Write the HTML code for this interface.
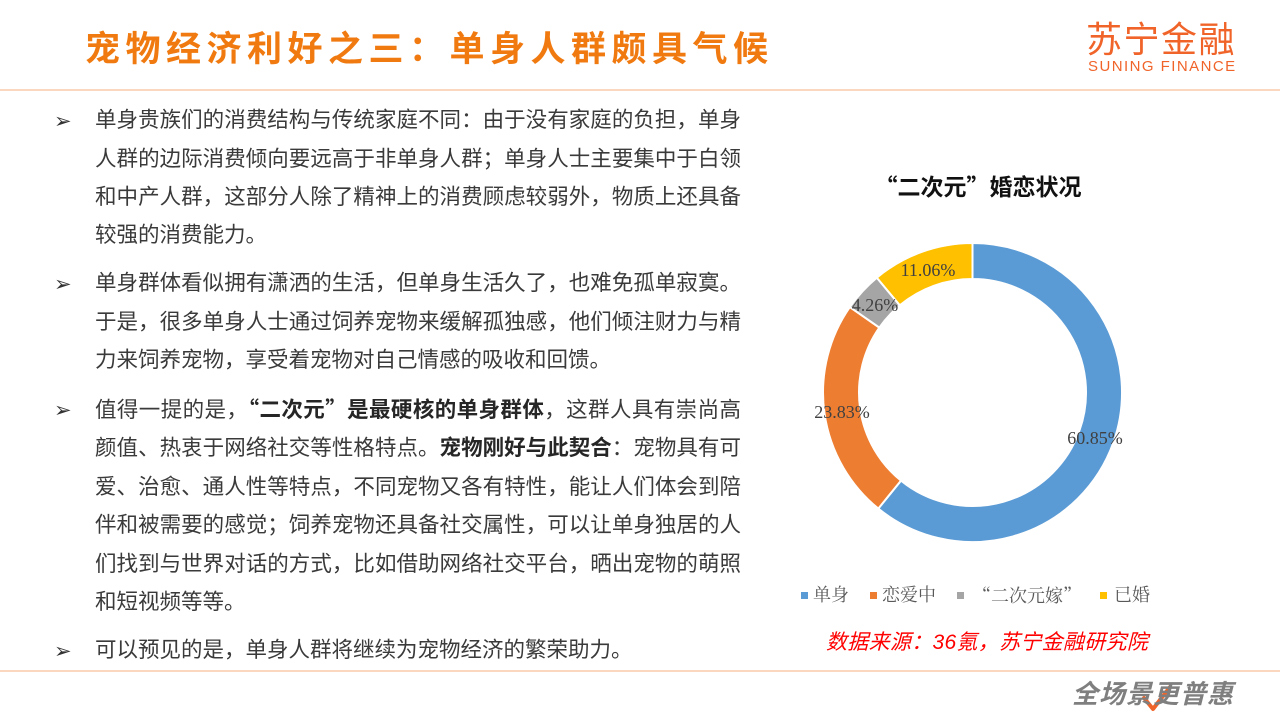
<!DOCTYPE html>
<html><head><meta charset="utf-8">
<style>
html,body{margin:0;padding:0;background:#fff;}
body{width:1280px;height:720px;position:relative;overflow:hidden;font-family:"Liberation Sans","Noto Sans CJK SC",sans-serif;}
.title{position:absolute;left:85px;top:28px;font-size:35px;line-height:44px;font-weight:bold;color:#F07A10;letter-spacing:5.5px;white-space:nowrap;font-family:"Liberation Sans","Noto Sans CJK SC",sans-serif;}
.logo1{position:absolute;left:1086px;top:20px;font-size:36px;line-height:40px;color:#F0642A;letter-spacing:1.5px;white-space:nowrap;font-weight:normal;}
.logo2{position:absolute;left:1088px;top:58px;font-size:15px;line-height:18px;color:#F0642A;letter-spacing:1.45px;white-space:nowrap;}
.hr{position:absolute;left:0;width:1280px;height:2px;background:#FAD7BE;}
.ln{position:absolute;left:95px;width:646px;height:38px;line-height:38px;font-size:21.5px;color:#3A3A3A;white-space:nowrap;}
.j{text-align:justify;text-align-last:justify;}
.b{position:absolute;left:54px;font-family:"DejaVu Sans",sans-serif;font-size:21px;line-height:24px;color:#333;}
strong{font-weight:bold;color:#262626;}
.q{font-family:"Noto Sans CJK SC",sans-serif;}
.ctitle{position:absolute;left:868px;top:168px;width:220px;text-align:center;font-size:23px;line-height:34px;font-weight:bold;color:#111;white-space:nowrap;}
.leg{position:absolute;top:583px;font-size:18px;line-height:24px;color:#595959;font-family:"Liberation Serif","Noto Serif CJK SC",serif;white-space:nowrap;}
.sq{position:absolute;top:592px;width:7px;height:7px;}
.src{position:absolute;left:826px;top:628px;font-size:21px;line-height:30px;color:#FF0000;font-style:italic;white-space:nowrap;letter-spacing:0.3px;}
.foot{position:absolute;left:1072px;top:678px;font-size:26px;line-height:32px;color:#7F7F7F;font-style:italic;font-weight:bold;white-space:nowrap;letter-spacing:1px;}
</style></head>
<body>
<div class="title">宠物经济利好之三：单身人群颇具气候</div>
<div class="logo1">苏宁金融</div>
<div class="logo2">SUNING FINANCE</div>
<div class="hr" style="top:89px;"></div>
<div class="hr" style="top:670px;"></div>

<div class="b" style="top:109px;">➢</div>
<div class="ln j" style="top:101px;">单身贵族们的消费结构与传统家庭不同：由于没有家庭的负担，单身</div>
<div class="ln j" style="top:140px;">人群的边际消费倾向要远高于非单身人群；单身人士主要集中于白领</div>
<div class="ln j" style="top:178px;">和中产人群，这部分人除了精神上的消费顾虑较弱外，物质上还具备</div>
<div class="ln" style="top:216px;">较强的消费能力。</div>

<div class="b" style="top:272px;">➢</div>
<div class="ln j" style="top:264px;">单身群体看似拥有潇洒的生活，但单身生活久了，也难免孤单寂寞。</div>
<div class="ln j" style="top:303px;">于是，很多单身人士通过饲养宠物来缓解孤独感，他们倾注财力与精</div>
<div class="ln" style="top:341px;">力来饲养宠物，享受着宠物对自己情感的吸收和回馈。</div>

<div class="b" style="top:398px;">➢</div>
<div class="ln j" style="top:390px;">值得一提的是，<strong><span class="q">“</span>二次元<span class="q">”</span>是最硬核的单身群体</strong>，这群人具有崇尚高</div>
<div class="ln j" style="top:429px;">颜值、热衷于网络社交等性格特点。<strong>宠物刚好与此契合</strong>：宠物具有可</div>
<div class="ln j" style="top:468px;">爱、治愈、通人性等特点，不同宠物又各有特性，能让人们体会到陪</div>
<div class="ln j" style="top:506px;">伴和被需要的感觉；饲养宠物还具备社交属性，可以让单身独居的人</div>
<div class="ln j" style="top:545px;">们找到与世界对话的方式，比如借助网络社交平台，晒出宠物的萌照</div>
<div class="ln" style="top:583px;">和短视频等等。</div>

<div class="b" style="top:639px;">➢</div>
<div class="ln" style="top:631px;">可以预见的是，单身人群将继续为宠物经济的繁荣助力。</div>

<div class="ctitle"><span class="q">“</span>二次元<span class="q">”</span>婚恋状况</div>

<svg style="position:absolute;left:0;top:0;" width="1280" height="720" viewBox="0 0 1280 720">
  <g stroke="#fff" stroke-width="2" stroke-linejoin="miter">
    <path fill="#5B9BD5" d="M972.5 243 A149.5 149.5 0 1 1 878.29 508.57 L900.97 480.62 A113.5 113.5 0 1 0 972.5 279 Z"/>
    <path fill="#ED7D31" d="M878.29 508.57 A149.5 149.5 0 0 1 849.84 307.05 L879.37 327.62 A113.5 113.5 0 0 0 900.97 480.62 Z"/>
    <path fill="#A5A5A5" d="M849.84 307.05 A149.5 149.5 0 0 1 876.78 277.67 L899.83 305.32 A113.5 113.5 0 0 0 879.37 327.62 Z"/>
    <path fill="#FFC000" d="M876.78 277.67 A149.5 149.5 0 0 1 972.5 243 L972.5 279 A113.5 113.5 0 0 0 899.83 305.32 Z"/>
  </g>
  <g font-family="Liberation Serif, serif" font-size="18" fill="#404040" text-anchor="middle">
    <text x="1095" y="444">60.85%</text>
    <text x="842" y="418">23.83%</text>
    <text x="875" y="311">4.26%</text>
    <text x="928" y="276">11.06%</text>
  </g>
  <polyline points="1144,698 1153,709 1170,687" fill="none" stroke="#F0642A" stroke-width="4" stroke-linecap="round" stroke-linejoin="round"/>
</svg>

<div class="sq" style="left:801px;background:#5B9BD5;"></div>
<div class="leg" style="left:813px;">单身</div>
<div class="sq" style="left:870px;background:#ED7D31;"></div>
<div class="leg" style="left:882px;">恋爱中</div>
<div class="sq" style="left:957px;background:#A5A5A5;"></div>
<div class="leg" style="left:973px;"><span style="font-family:'Noto Serif CJK SC',serif;">“二次元嫁”</span></div>
<div class="sq" style="left:1100px;background:#FFC000;"></div>
<div class="leg" style="left:1114px;">已婚</div>

<div class="src">数据来源：36氪，苏宁金融研究院</div>
<div class="foot">全场景更普惠</div>
</body></html>
